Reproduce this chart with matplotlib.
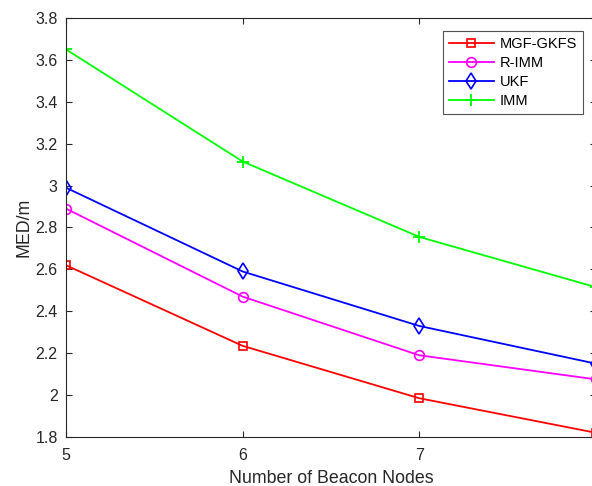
import numpy as np
import matplotlib
matplotlib.use("Agg")
import matplotlib.pyplot as plt

plt.rcParams['font.family'] = ['Liberation Sans', 'DejaVu Sans']

# data
nodes = [5, 6, 7, 8]
mgf_gkfs = [2.62, 2.235, 1.985, 1.82]
r_imm = [2.89, 2.47, 2.19, 2.075]
ukf = [2.99, 2.59, 2.33, 2.15]
imm = [3.65, 3.115, 2.755, 2.515]

series_names = ['MGF-GKFS', 'R-IMM', 'UKF', 'IMM']
yticks = [1.8, 2, 2.2, 2.4, 2.6, 2.8, 3, 3.2, 3.4, 3.6, 3.8]
ytick_labels = ['1.8', '2', '2.2', '2.4', '2.6', '2.8', '3', '3.2', '3.4', '3.6', '3.8']

fig = plt.figure(figsize=(5.92, 4.86), dpi=100)
# axes runs past the right edge like in the reference crop
ax = fig.add_axes([66 / 592, 49 / 486, 530 / 592, 419 / 486])

lw = 1.3
ax.plot(nodes, mgf_gkfs, color=(1, 0, 0), marker='s', ms=5.8, mfc='none', mew=1.2, lw=lw, label=series_names[0])
ax.plot(nodes, r_imm, color=(1, 0, 1), marker='o', ms=7, mfc='none', mew=1.2, lw=lw, label=series_names[1])
ax.plot(nodes, ukf, color=(0, 0, 1), marker='d', ms=8.5, mfc='none', mew=1.2, lw=lw, label=series_names[2])
ax.plot(nodes, imm, color=(0, 1, 0), marker='+', ms=8, mew=1.3, lw=lw, label=series_names[3])

ax.set_xlim(5, 8)
ax.set_ylim(1.8, 3.8)
ax.set_xticks(nodes)
ax.set_yticks(yticks)
ax.set_yticklabels(ytick_labels)

tc = (0.15, 0.15, 0.15)
ax.tick_params(direction='in', top=True, right=True, length=4, width=0.8,
               labelsize=11.5, colors=tc, labelcolor=tc)
ax.tick_params(axis='x', pad=8)
ax.tick_params(axis='y', pad=6)
for s in ax.spines.values():
    s.set_color(tc)
    s.set_linewidth(0.8)

ax.set_xlabel('Number of Beacon Nodes', fontsize=12.8, color=tc, labelpad=5)
ax.set_ylabel('MED/m', fontsize=12.8, color=tc, labelpad=2)

leg = ax.legend(loc='upper left', bbox_to_anchor=((443 - 66) / 530, 1 - 13 / 419),
                fontsize=10.5, frameon=True, fancybox=False, handlelength=3.1,
                borderpad=0.4, labelspacing=0.35, handletextpad=0.4, borderaxespad=0)
leg.get_frame().set_edgecolor(tc)
leg.get_frame().set_linewidth(0.8)

fig.savefig('out.png', dpi=100)
